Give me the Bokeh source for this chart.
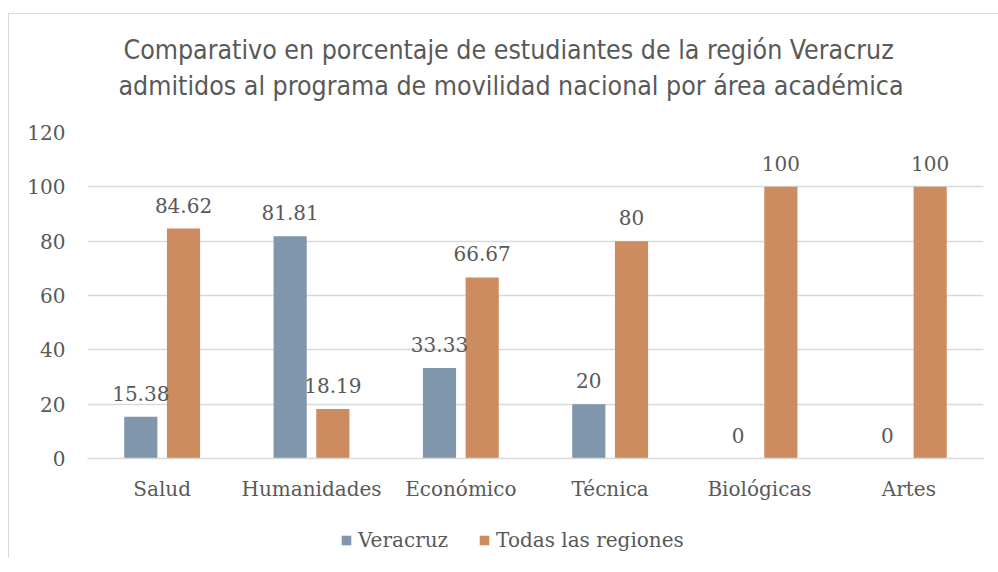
from bokeh.plotting import figure
from bokeh.models import ColumnDataSource, Legend, LegendItem, Title, LabelSet, FactorRange, Range1d
from bokeh.layouts import column
from bokeh.transform import dodge
from bokeh.core.properties import value
from bokeh.embed import file_html
from bokeh.resources import INLINE

categories = ["Salud", "Humanidades", "Económico", "Técnica", "Biológicas", "Artes"]
veracruz = [15.38, 81.81, 33.33, 20, 0, 0]
todas = [84.62, 18.19, 66.67, 80, 100, 100]
veracruz_labels = ["15.38", "81.81", "33.33", "20", "0", "0"]
todas_labels = ["84.62", "18.19", "66.67", "80", "100", "100"]
y_ticks = [0, 20, 40, 60, 80, 100, 120]
series_names = ["Veracruz", "Todas las regiones"]

BLUE = "#7F96AD"
ORANGE = "#CC8C5F"
TEXT = "#595959"
GRID = "#D9D9D9"
SERIF = "DejaVu Serif"
TITLE_FONT = "DejaVu Sans Condensed"
FS = "20px"

src = ColumnDataSource(dict(cat=categories, v=veracruz, t=todas, vl=veracruz_labels, tl=todas_labels))

p = figure(x_range=FactorRange(*categories, range_padding=0), y_range=(0, 120),
           width=989, height=500, output_backend="svg", toolbar_location=None,
           min_border_left=78, min_border_right=15, min_border_top=118, min_border_bottom=56)

b1 = p.vbar(x=dodge("cat", -0.143, range=p.x_range), top="v", width=0.222, source=src,
            fill_color=BLUE, line_color=None)
b2 = p.vbar(x=dodge("cat", 0.143, range=p.x_range), top="t", width=0.222, source=src,
            fill_color=ORANGE, line_color=None)

p.add_layout(LabelSet(x=dodge("cat", -0.143, range=p.x_range), y="v", text="vl", source=src,
                      text_align="center", text_baseline="bottom", y_offset=16,
                      text_font=value(SERIF), text_font_size=FS, text_color=TEXT))
p.add_layout(LabelSet(x=dodge("cat", 0.143, range=p.x_range), y="t", text="tl", source=src,
                      text_align="center", text_baseline="bottom", y_offset=16,
                      text_font=value(SERIF), text_font_size=FS, text_color=TEXT))

# axes
p.yaxis.ticker = y_ticks
p.yaxis.axis_line_color = None
p.yaxis.major_tick_line_color = None
p.yaxis.minor_tick_line_color = None
p.yaxis.major_label_standoff = 16
p.yaxis.major_label_text_font = SERIF
p.yaxis.major_label_text_font_size = FS
p.yaxis.major_label_text_color = TEXT

p.xaxis.axis_line_color = GRID
p.xaxis.axis_line_width = 1.5
p.xaxis.major_tick_line_color = None
p.xaxis.minor_tick_line_color = None
p.xaxis.major_label_standoff = 12
p.xaxis.major_label_text_font = SERIF
p.xaxis.major_label_text_font_size = FS
p.xaxis.major_label_text_color = TEXT

p.xgrid.grid_line_color = None
p.ygrid.grid_line_color = GRID
p.ygrid.grid_line_width = 1.5
p.outline_line_color = None

t2 = Title(text="admitidos al programa de movilidad nacional por área académica", align="left",
           text_font=TITLE_FONT, text_font_size="26.5px", text_font_style="normal",
           text_color=TEXT, offset=31, standoff=64)
t1 = Title(text="Comparativo en porcentaje de estudiantes de la región Veracruz", align="left",
           text_font=TITLE_FONT, text_font_size="26.5px", text_font_style="normal",
           text_color=TEXT, offset=36, standoff=-58)
p.add_layout(t2, "above")
p.add_layout(t1, "above")

# legend strip below the chart
p2 = figure(x_range=Range1d(0, 1), y_range=Range1d(0, 1), width=989, height=44,
            output_backend="svg", toolbar_location=None,
            x_axis_location=None, y_axis_location=None,
            min_border_left=0, min_border_right=0, min_border_top=0, min_border_bottom=0)
p2.xgrid.grid_line_color = None
p2.ygrid.grid_line_color = None
p2.outline_line_color = None
p2.border_fill_color = "white"
p2.background_fill_color = "white"
l1 = p2.vbar(x=[-5], top=[-5], bottom=[-6], width=0.1, fill_color=BLUE, line_color=None)
l2 = p2.vbar(x=[-5], top=[-5], bottom=[-6], width=0.1, fill_color=ORANGE, line_color=None)
legend = Legend(items=[LegendItem(label=series_names[0], renderers=[l1]),
                       LegendItem(label=series_names[1], renderers=[l2])],
                orientation="horizontal", location=(253, 6),
                label_text_font=SERIF, label_text_font_size=FS, label_text_color=TEXT,
                glyph_width=12, glyph_height=12, label_standoff=6, spacing=30,
                border_line_color=None, background_fill_alpha=0, margin=0, padding=2)
p2.add_layout(legend)

lay = column(p, p2, spacing=0)
lay.styles = {"border-top": "1px solid #D9D9D9", "border-left": "1px solid #D9D9D9",
              "margin-left": "8px", "margin-top": "13px"}

open("out.html", "w").write(file_html(lay, INLINE))
